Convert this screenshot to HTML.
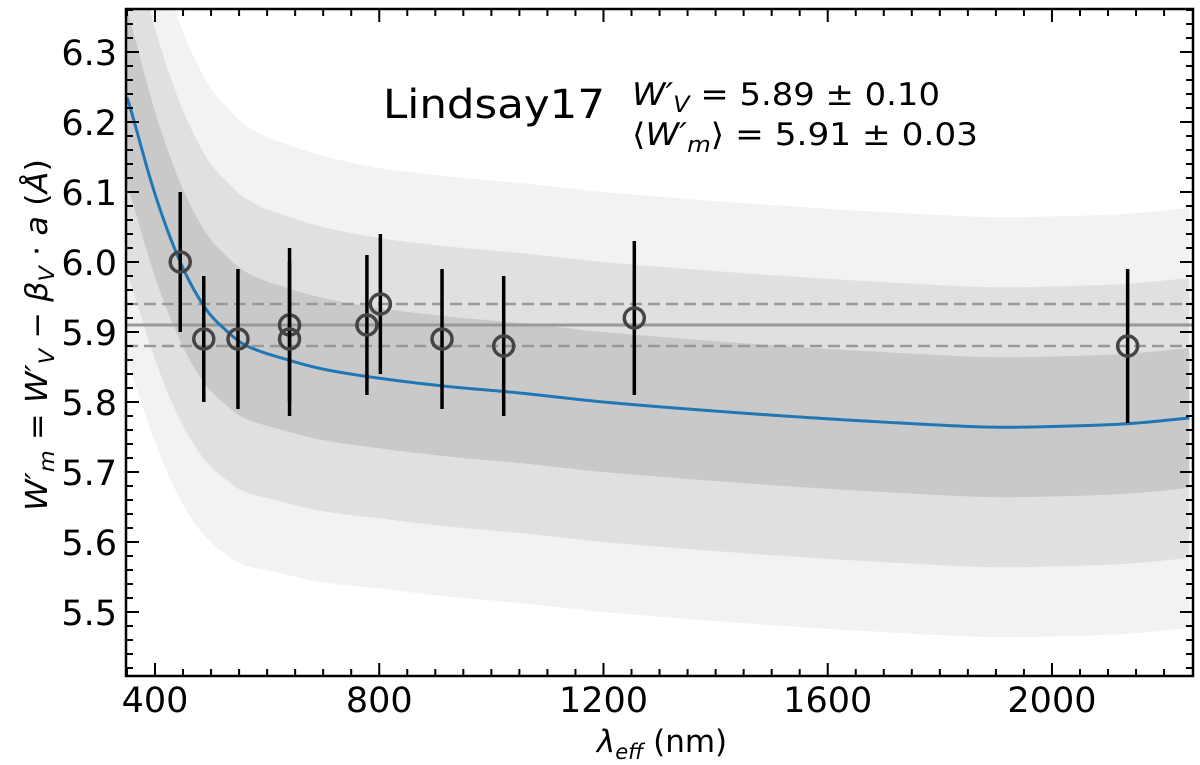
<!DOCTYPE html>
<html><head><meta charset="utf-8"><style>
body{margin:0;background:#fff}
svg{display:block;font-family:"DejaVu Sans","Liberation Sans",sans-serif}
</style></head><body>
<div style="position:relative;width:1200px;height:765px">
<svg id="c" width="1200" height="765" viewBox="0 0 1200 765" style="position:absolute;left:0;top:0"></svg>
<svg width="1200" height="765" style="position:absolute;left:0;top:0;pointer-events:none">
<text x="383" y="118" font-size="40" textLength="222" lengthAdjust="spacingAndGlyphs">Lindsay17</text>
<text x="632" y="105" font-size="31" textLength="308" lengthAdjust="spacingAndGlyphs"><tspan font-style="italic">W′</tspan><tspan font-style="italic" font-size="22" dy="7">V</tspan><tspan dy="-7"> = 5.89 ± 0.10</tspan></text>
<text x="632" y="145" font-size="31" textLength="346" lengthAdjust="spacingAndGlyphs">⟨<tspan font-style="italic">W′</tspan><tspan font-style="italic" font-size="22" dy="7">m</tspan><tspan dy="-7">⟩ = 5.91 ± 0.03</tspan></text>
<text transform="translate(47,335) rotate(-90)" font-size="30" text-anchor="middle" textLength="352" lengthAdjust="spacingAndGlyphs"><tspan font-style="italic">W′</tspan><tspan font-style="italic" font-size="21" dy="7">m</tspan><tspan dy="-7"> = </tspan><tspan font-style="italic">W′</tspan><tspan font-style="italic" font-size="21" dy="7">V</tspan><tspan dy="-7"> − </tspan><tspan font-style="italic">β</tspan><tspan font-style="italic" font-size="21" dy="7">V</tspan><tspan dy="-7"> · </tspan><tspan font-style="italic">a</tspan><tspan> (</tspan><tspan font-style="italic">Å</tspan><tspan>)</tspan></text>
<text x="662" y="752" font-size="31" text-anchor="middle"><tspan font-style="italic">λ</tspan><tspan font-style="italic" font-size="21" dy="7">eff</tspan><tspan dy="-7"> (nm)</tspan></text>
</svg>
</div>
<script>
const curveLam=[350,356,400,445,489,530,564,642,700,782,912,1049,1200,1400,1600,1800,1900,2000,2135,2243];
const curveVal=[6.235,6.22,6.097,6.0,5.935,5.90,5.88,5.859,5.847,5.836,5.823,5.813,5.800,5.787,5.776,5.767,5.764,5.765,5.769,5.777];
const sigmaLam=[350,400,445,500,600,800,2243];
const sigmaVal=[0.125,0.118,0.113,0.108,0.103,0.100,0.100];
const ptLam=[445,487,548,640,640,778,802,912,1022,1255,2135];
const ptVal=[6.00,5.89,5.89,5.91,5.89,5.91,5.94,5.89,5.88,5.92,5.88];
const ptErr=[0.10,0.09,0.10,0.11,0.11,0.10,0.10,0.10,0.10,0.11,0.11];
const meanVal=5.91, meanErr=0.03;
const xTicks=[400,800,1200,1600,2000];
const yTicks=[5.5,5.6,5.7,5.8,5.9,6.0,6.1,6.2,6.3];

const L=126,R=1193,T=9,B=676;
const X=v=>155+(v-400)*0.5606;
const Y=v=>52+(6.3-v)*700;
const NS='http://www.w3.org/2000/svg';
const svg=document.getElementById('c');
function mk(tag,attrs,parent){const e=document.createElementNS(NS,tag);for(const k in attrs)e.setAttribute(k,attrs[k]);(parent||svg).appendChild(e);return e;}
function interp(xs,ys,x){if(x<=xs[0])return ys[0];for(let i=1;i<xs.length;i++){if(x<=xs[i]){const t=(x-xs[i-1])/(xs[i]-xs[i-1]);return ys[i-1]+t*(ys[i]-ys[i-1]);}}return ys[ys.length-1];}
function curveAt(x){const xs=curveLam,ys=curveVal;let i=1;while(i<xs.length-1&&x>xs[i])i++;const i0=Math.max(0,i-2),i1=i-1,i2=i,i3=Math.min(xs.length-1,i+1);
 const t=(x-xs[i1])/(xs[i2]-xs[i1]);const p0=ys[i0],p1=ys[i1],p2=ys[i2],p3=ys[i3];
 const m1=(p2-p0)/(xs[i2]-xs[i0])*(xs[i2]-xs[i1]),m2=(p3-p1)/(xs[i3]-xs[i1])*(xs[i2]-xs[i1]);
 const t2=t*t,t3=t2*t;return (2*t3-3*t2+1)*p1+(t3-2*t2+t)*m1+(-2*t3+3*t2)*p2+(t3-t2)*m2;}
const samples=[];for(let x=350;x<=2243;x+=4)samples.push(x);samples.push(2245);
const clip=mk('clipPath',{id:'pc'});mk('rect',{x:L,y:T,width:R-L,height:B-T},clip);
const g=mk('g',{'clip-path':'url(#pc)'});
const colors=['#f2f2f2','#e0e0e0','#c9c9c9'];
[3,2,1].forEach((k,j)=>{
 let up=samples.map(x=>X(x)+','+Y(curveAt(x)+k*interp(sigmaLam,sigmaVal,x)));
 let lo=samples.slice().reverse().map(x=>X(x)+','+Y(curveAt(x)-k*interp(sigmaLam,sigmaVal,x)));
 const p=mk('polygon',{points:up.concat(lo).join(' '),fill:colors[j]},g);
 
 
});
const ml=mk('line',{x1:L,x2:R,y1:Y(meanVal),y2:Y(meanVal),stroke:'#999',"stroke-width":3},g);


[meanVal+meanErr,meanVal-meanErr].forEach((v,i)=>{const d=mk('line',{x1:L,x2:R,y1:Y(v),y2:Y(v),stroke:'#999',"stroke-width":2.5,"stroke-dasharray":"12,6"},g);
 
 });
const cp=mk('polyline',{points:samples.map(x=>X(x)+','+Y(curveAt(x))).join(' '),fill:'none',stroke:'#1f77b4',"stroke-width":3},g);


ptLam.forEach((l,i)=>{
 const e=mk('line',{x1:X(l),x2:X(l),y1:Y(ptVal[i]+ptErr[i]),y2:Y(ptVal[i]-ptErr[i]),stroke:'#000',"stroke-width":3.5},g);
 
 
 const c=mk('circle',{cx:X(l),cy:Y(ptVal[i]),r:10,fill:'none',stroke:'#444',"stroke-width":3.5},g);
 
 
});
const tg=mk('g',{stroke:'#000'});
for(let v=350;v<=2243;v+=50){const maj=v%400===0;const h=maj?13:7;
 mk('line',{x1:X(v),x2:X(v),y1:B,y2:B-h,"stroke-width":2},tg);mk('line',{x1:X(v),x2:X(v),y1:T,y2:T+h,"stroke-width":2},tg);}
for(let i=0;i<=50;i++){const v=5.36+i*0.02;if(Y(v)<T||Y(v)>B)continue;const maj=Math.abs(Math.round(v*10)-v*10)<1e-6;const h=maj?13:7;
 mk('line',{x1:L,x2:L+h,y1:Y(v),y2:Y(v),"stroke-width":2},tg);mk('line',{x1:R,x2:R-h,y1:Y(v),y2:Y(v),"stroke-width":2},tg);}
xTicks.forEach(v=>{const t=mk('text',{x:X(v),y:712,"font-size":35,"text-anchor":"middle"});t.textContent=v;
 
 });
yTicks.forEach(v=>{const t=mk('text',{x:117,y:Y(v)+13,"font-size":35,"text-anchor":"end"});t.textContent=v.toFixed(1);
 
 });
const fr=mk('rect',{x:L,y:T,width:R-L,height:B-T,fill:'none',stroke:'#000',"stroke-width":2.5});


</script>
</body></html>
